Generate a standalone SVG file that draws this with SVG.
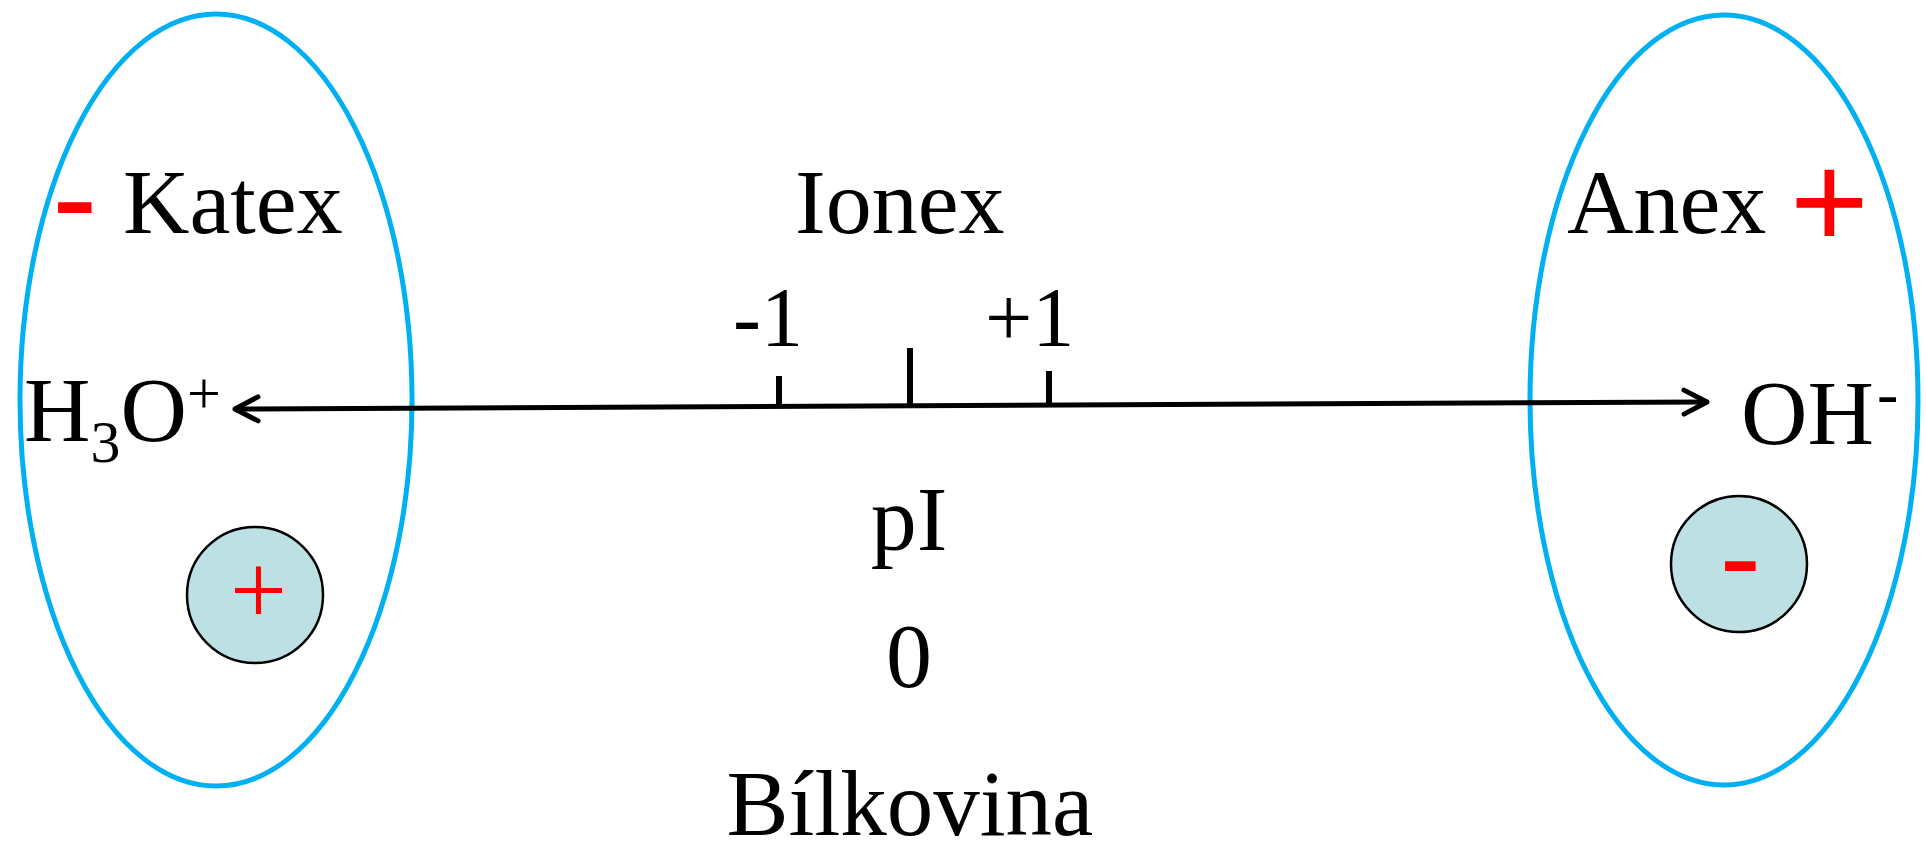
<svg xmlns="http://www.w3.org/2000/svg" width="1926" height="842" viewBox="0 0 1926 842">
<defs>
<style>
.t{font-family:"Liberation Serif","Times New Roman",serif;fill:#000}
.s{font-family:"Liberation Sans",Arial,sans-serif;fill:#FF0000}
.big{fill:none;stroke:#00B0F0;stroke-width:5}
.ion{fill:#BCE0E3;stroke:#000;stroke-width:2.5}
.tick{stroke:#000;stroke-width:6}
.axis{fill:none;stroke:#000;stroke-width:5}
</style>
<marker id="ah" markerUnits="userSpaceOnUse" markerWidth="40" markerHeight="40" refX="25" refY="15" orient="auto-start-reverse" overflow="visible">
<path d="M2,3 L25,15 L2,27" fill="none" stroke="#000" stroke-width="5" stroke-linecap="round" stroke-linejoin="round"/>
</marker>
</defs>
<rect width="1926" height="842" fill="#fff"/>
<g id="katex">
<ellipse class="big" cx="216" cy="400" rx="196" ry="386"/>
<text class="s" x="52" y="244" font-size="137">-</text>
<text class="t" x="123" y="233" font-size="92">Katex</text>
<text class="t" x="24" y="441" font-size="92">H<tspan font-size="60" dy="21">3</tspan><tspan dy="-21">O</tspan><tspan font-size="60" dy="-28">+</tspan></text>
<circle class="ion" cx="255" cy="595" r="68"/>
<text class="t" x="258.5" y="623.5" font-size="101" text-anchor="middle" style="fill:#FF0000">+</text>
</g>
<g id="anex">
<ellipse class="big" cx="1724" cy="400" rx="194" ry="385"/>
<text class="t" x="1567" y="233" font-size="92">Anex</text>
<text class="s" x="1829.5" y="248" font-size="135" text-anchor="middle">+</text>
<text class="t" x="1741" y="444" font-size="92">OH<tspan font-size="64" dx="3" dy="-29">-</tspan></text>
<circle class="ion" cx="1739" cy="564" r="68"/>
<text class="s" x="1719.6" y="598.8" font-size="125">-</text>
</g>
<g id="ionex">
<text class="t" x="795" y="233" font-size="92">Ionex</text>
<text class="t" x="733" y="346" font-size="84">-1</text>
<text class="t" x="985" y="346" font-size="84">+1</text>
</g>
<g id="bilkovina">
<text class="t" x="909" y="550" font-size="92" text-anchor="middle">pI</text>
<text class="t" x="909" y="687" font-size="92" text-anchor="middle">0</text>
<text class="t" x="910" y="835" font-size="93" text-anchor="middle">Bílkovina</text>
</g>
<g id="connectors">
<path class="axis" d="M235,409 L1707,402" marker-start="url(#ah)" marker-end="url(#ah)"/>
<line class="tick" x1="779" y1="376" x2="779" y2="406"/>
<line class="tick" x1="910" y1="348" x2="910" y2="405"/>
<line class="tick" x1="1049" y1="371" x2="1049" y2="404"/>
</g>
</svg>
